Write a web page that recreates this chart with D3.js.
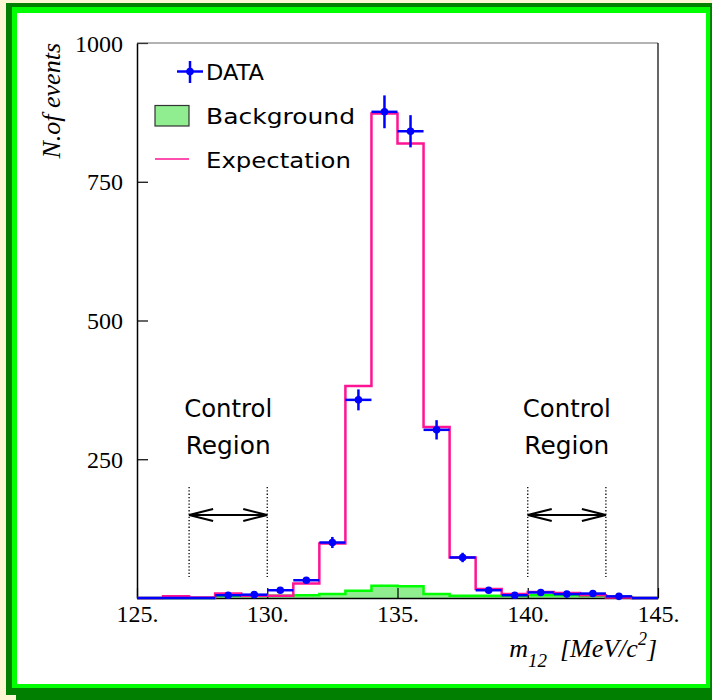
<!DOCTYPE html>
<html><head><meta charset="utf-8">
<script src="https://cdn.jsdelivr.net/npm/d3@7"></script>
<style>body{margin:0;background:#fbf7d3}svg{display:block}</style>
</head><body><svg id="c" width="712" height="700"></svg>
<script>
// ---- data ----
const binLow = [125,126,127,128,129,130,131,132,133,134,135,136,137,138,139,140,141,142,143,144];
const dataCounts = [0,0,0,5,6,14,32,100,357,876,841,303,73,14,5,10,7,8,3,0];
const dataErrors = [0,0,0,2.2,2.4,3.7,5.7,10,18.9,29.6,29,17.4,8.5,3.7,2.2,3.2,2.6,2.8,1.7,0];
const expectation = [0,3,1,8,4,4,26,98,382,873,819,308,73,16,7,11,9,5,1,0];
const background = [0,0,0,4,4,4,5,7,13,22,21,7,4,4,4,5,5,4,2,0];
const xTicks = [125,130,135,140,145];
const xTickLabels = ["125.","130.","135.","140.","145."];
const yTicks = [250,500,750,1000];
const controlRegions = [[127,130],[140,143]];
const legendLabels = ["DATA","Background","Expectation"];

const svg = d3.select("#c");
// frame / borders
svg.append("rect").attr("x",6).attr("y",3).attr("width",706).attr("height",697).attr("fill","#007f00");
svg.append("rect").attr("x",0).attr("y",695).attr("width",16).attr("height",5).attr("fill","#fbf7d3");
svg.append("rect").attr("x",12).attr("y",7).attr("width",698).attr("height",681).attr("fill","#00ff00");
svg.append("rect").attr("x",17).attr("y",13).attr("width",689).attr("height",671).attr("fill","#ffffff");

const x = d3.scaleLinear().domain([125,145]).range([137,658]);
const y = d3.scaleLinear().domain([0,1000]).range([598,43]);

function stepPoints(vals){
  const pts=[[binLow[0],0]];
  vals.forEach((v,i)=>{pts.push([binLow[i],v]);pts.push([binLow[i]+1,v]);});
  pts.push([binLow[binLow.length-1]+1,0]);
  return pts;
}
const line = d3.line().x(d=>x(d[0])).y(d=>y(d[1]));
const area = d3.area().x(d=>x(d[0])).y0(y(0)).y1(d=>y(d[1]));

// background
const bgPts = stepPoints(background);
svg.append("path").attr("d",area(bgPts)).attr("fill","#90ee90");
svg.append("path").attr("d",line(bgPts)).attr("fill","none").attr("stroke","#00ff00").attr("stroke-width",2.5);

// axes
const xAxis = d3.axisBottom(x).tickValues(xTicks).tickSize(-10).tickSizeOuter(0).tickFormat((d,i)=>xTickLabels[i]);
const gx = svg.append("g").attr("transform",`translate(0,${y(0)})`).call(xAxis);
gx.selectAll("text").attr("y",24).attr("dy",0).attr("font-family","Liberation Serif").attr("font-size",24).attr("fill","#000");
const yAxis = d3.axisLeft(y).tickValues(yTicks).tickSize(-11).tickSizeOuter(0).tickFormat(d3.format("d"));
const gy = svg.append("g").attr("transform",`translate(${x(125)},0)`).call(yAxis);
gy.selectAll("text").attr("x",-14).attr("dy",8).attr("font-family","Liberation Serif").attr("font-size",24).attr("fill","#000");
[gx,gy].forEach(g=>{g.select(".domain").attr("stroke","#000").attr("stroke-width",1.5);g.selectAll(".tick line").attr("stroke","#000").attr("stroke-width",1.2);});
// top and right frame
svg.append("line").attr("x1",x(125)).attr("x2",x(145)).attr("y1",y(1000)).attr("y2",y(1000)).attr("stroke","#666").attr("stroke-width",1);
svg.append("line").attr("x1",x(145)).attr("x2",x(145)).attr("y1",y(1000)).attr("y2",y(0)).attr("stroke","#000").attr("stroke-width",1.2);

// expectation
svg.append("path").attr("d",line(stepPoints(expectation))).attr("fill","none").attr("stroke","#ff1493").attr("stroke-width",2.5);

// data
const dg = svg.append("g").attr("stroke","#0000ff").attr("stroke-width",2.5);
dataCounts.forEach((v,i)=>{
  const cx = binLow[i]+0.5;
  dg.append("line").attr("x1",x(binLow[i])).attr("x2",x(binLow[i]+1)).attr("y1",y(v)).attr("y2",y(v));
  if(v>0){
    dg.append("line").attr("x1",x(cx)).attr("x2",x(cx)).attr("y1",y(v-dataErrors[i])).attr("y2",y(v+dataErrors[i]));
    dg.append("circle").attr("cx",x(cx)).attr("cy",y(v)).attr("r",3.8).attr("fill","#0000ff").attr("stroke","none");
  }
});

// control regions
controlRegions.forEach(([a,b])=>{
  const g = svg.append("g");
  [a,b].forEach(v=>g.append("line").attr("x1",x(v)).attr("x2",x(v)).attr("y1",487).attr("y2",577).attr("stroke","#000").attr("stroke-width",1.3).attr("stroke-dasharray","1.3,2"));
  const ay=515, xa=x(a), xb=x(b);
  g.append("path").attr("d",`M${xa},${ay}L${xb},${ay}M${xa+24},${ay-6}L${xa},${ay}L${xa+24},${ay+6}M${xb-24},${ay-6}L${xb},${ay}L${xb-24},${ay+6}`)
    .attr("fill","none").attr("stroke","#000").attr("stroke-width",2);
  const cx=(xa+xb)/2;
  g.append("text").attr("x",cx).attr("y",417).attr("text-anchor","middle").attr("font-family","DejaVu Sans").attr("font-size",25).attr("textLength",88).attr("lengthAdjust","spacingAndGlyphs").text("Control");
  g.append("text").attr("x",cx).attr("y",454).attr("text-anchor","middle").attr("font-family","DejaVu Sans").attr("font-size",25).attr("textLength",85).attr("lengthAdjust","spacingAndGlyphs").text("Region");
});

// legend
const lg = svg.append("g");
lg.append("line").attr("x1",177).attr("x2",203).attr("y1",71.5).attr("y2",71.5).attr("stroke","#0000ff").attr("stroke-width",2.5);
lg.append("line").attr("x1",190).attr("x2",190).attr("y1",61).attr("y2",83).attr("stroke","#0000ff").attr("stroke-width",2.5);
lg.append("circle").attr("cx",190).attr("cy",71.5).attr("r",3.8).attr("fill","#0000ff");
lg.append("rect").attr("x",155).attr("y",105.5).attr("width",34).attr("height",20.5).attr("fill","#90ee90").attr("stroke","#333").attr("stroke-width",1.2);
lg.append("line").attr("x1",155).attr("x2",189).attr("y1",159).attr("y2",159).attr("stroke","#ff1493").attr("stroke-width",1.5);
const lw=[58,149,145], ly=[80,124,168];
legendLabels.forEach((t,i)=>lg.append("text").attr("x",206).attr("y",ly[i]).attr("font-family","DejaVu Sans").attr("font-size",22).attr("textLength",lw[i]).attr("lengthAdjust","spacingAndGlyphs").text(t));

// axis titles
const yt = svg.append("text").attr("transform","translate(60,43) rotate(-90)").attr("text-anchor","end")
  .attr("font-family","Liberation Serif").attr("font-style","italic").attr("font-size",26).text("N.of events");
const xt = svg.append("text").attr("x",657).attr("y",657).attr("text-anchor","end")
  .attr("font-family","Liberation Serif").attr("font-style","italic").attr("font-size",26);
xt.append("tspan").text("m");
xt.append("tspan").attr("dy",10).attr("font-size",19).text("12");
xt.append("tspan").attr("dy",-10).text("\u00a0\u00a0[MeV/c");
xt.append("tspan").attr("dy",-12).attr("font-size",18).text("2");
xt.append("tspan").attr("dy",12).text("]");
</script></body></html>
